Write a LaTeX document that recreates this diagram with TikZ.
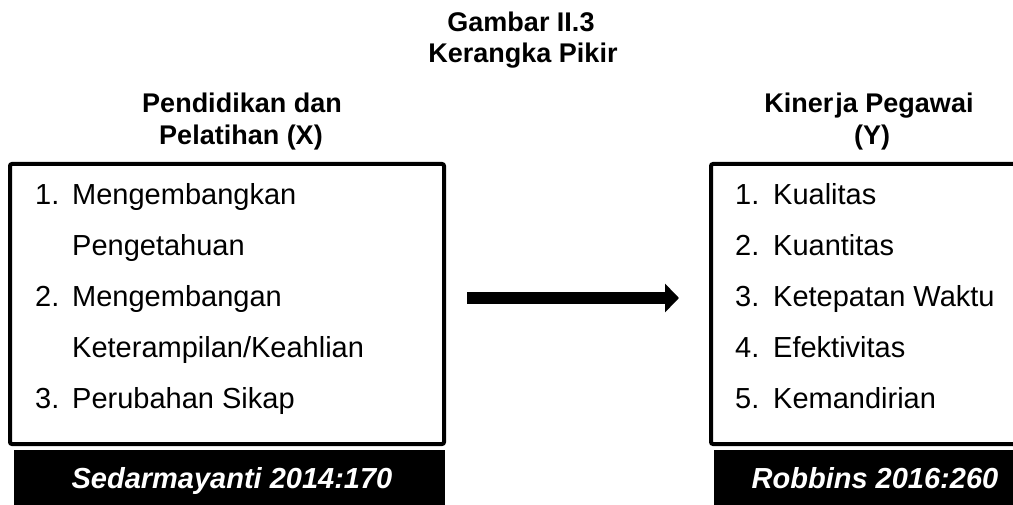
\documentclass[tikz,border=0pt]{standalone}
\usepackage{fontspec}
\setmainfont{Liberation Sans}
\usetikzlibrary{arrows.meta}
\tikzset{
  frame/.style={draw=black, line width=4pt, rounded corners=2pt},
  bar/.style={fill=black, draw=none},
  head/.style={font=\fontsize{27}{32}\selectfont\bfseries, inner sep=0pt, anchor=base},
  item/.style={font=\fontsize{29}{34}\selectfont, inner sep=0pt, anchor=base west},
  cite/.style={font=\fontsize{29}{34}\selectfont\bfseries\itshape, text=white, inner sep=0pt, anchor=base},
  bigarrow/.style={line width=12pt, -{Triangle[length=14pt,width=28pt]}}
}
\begin{document}
\begin{tikzpicture}[x=1pt,y=-1pt]
\useasboundingbox (0,0) rectangle (1013,505);
% title
\node[head] (t1) at (521,32) {Gambar II.3};
\node[head] (t2) at (523,63) {Kerangka Pikir};
% headings
\node[head] (h1) at (242,113) {Pendidikan dan};
\node[head] (h2) at (241,145) {Pelatihan (X)};
\node[head] (h3) at (869,113) {Kiner\kern2pt ja Pegawai};
\node[head] (h4) at (872,145) {(Y)};
% boxes
\draw[frame] (10,164) rectangle (444,444);
\draw[frame] (711,164) rectangle (1030,444);
% left items
\node[item] (l1n) at (35,205) {1.};
\node[item] (l1) at (72,205) {Mengembangkan};
\node[item] (l1b) at (72,256) {Pengetahuan};
\node[item] (l2n) at (35,306.5) {2.};
\node[item] (l2) at (72,306.5) {Mengembangan};
\node[item] (l2b) at (72,357) {Keterampilan/Keahlian};
\node[item] (l3n) at (35,408) {3.};
\node[item] (l3) at (72,408) {Perubahan Sikap};
% right items
\node[item] (r1n) at (735,205) {1.};
\node[item] (r1) at (773,205) {Kualitas};
\node[item] (r2n) at (735,256) {2.};
\node[item] (r2) at (773,256) {Kuantitas};
\node[item] (r3n) at (735,306.5) {3.};
\node[item] (r3) at (773,306.5) {Ketepatan Waktu};
\node[item] (r4n) at (735,357) {4.};
\node[item] (r4) at (773,357) {Efektivitas};
\node[item] (r5n) at (735,408) {5.};
\node[item] (r5) at (773,408) {Kemandirian};
% citation bars
\fill[bar] (14,450) rectangle (445,505);
\fill[bar] (714,450) rectangle (1013,505);
\node[cite] (c1) at (232,488) {Sedarmayanti 2014:170};
\node[cite] (c2) at (875,488) {Robbins 2016:260};
% arrow
\coordinate (as) at (467,298);
\coordinate (ae) at (679,298);
\draw[bigarrow] (as) -- (ae);
\end{tikzpicture}
\end{document}
